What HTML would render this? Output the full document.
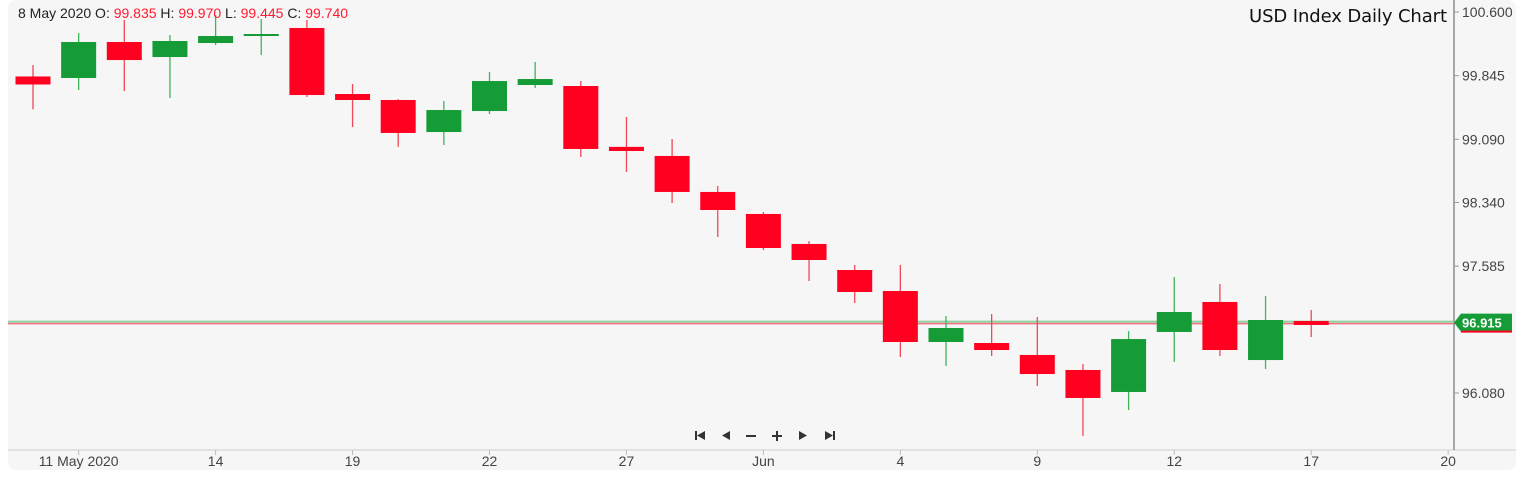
<!DOCTYPE html>
<html><head><meta charset="utf-8">
<style>
html,body{margin:0;padding:0;background:#fff;}
body{width:1516px;height:484px;overflow:hidden;font-family:"Liberation Sans",sans-serif;}
#chart{position:absolute;left:0;top:0;}
</style></head>
<body>
<svg id="chart" width="1516" height="484" xmlns="http://www.w3.org/2000/svg">
<rect x="8" y="0" width="1508" height="470" rx="8" fill="#f6f6f6"/>
<line x1="8" y1="450" x2="1516" y2="450" stroke="#cfcfcf"/>
<line x1="1454" y1="0" x2="1454" y2="450" stroke="#555"/>
<g id="marks"></g>
<g id="yticks"></g>
<g id="xticks"></g>
<text x="18" y="18" font-size="14" fill="#222">8 May 2020 O: <tspan fill="#ff1a2e">99.835</tspan> H: <tspan fill="#ff1a2e">99.970</tspan> L: <tspan fill="#ff1a2e">99.445</tspan> C: <tspan fill="#ff1a2e">99.740</tspan></text>
<text x="1447" y="22" font-size="18" text-anchor="end" fill="#111" font-family="DejaVu Sans, sans-serif" textLength="198">USD Index Daily Chart</text>
<g fill="#333">
<g><rect x="695" y="431" width="2" height="9"/><path d="M697 435.5 L705 431 V440 Z"/></g>
<path d="M722 435.5 L730 431 V440 Z"/>
<rect x="746" y="435" width="10" height="2"/>
<path d="M772 435 H782 V437 H772 Z M776 431 H778 V441 H776 Z"/>
<path d="M799 431 L807 435.5 L799 440 Z"/>
<g><path d="M825 431 L833 435.5 L825 440 Z"/><rect x="833" y="431" width="2" height="9"/></g>
</g>
</svg>
<script>
const opens  =[99.835,99.817,100.244,100.066,100.232,100.315,100.41,99.627,99.556,99.176,99.425,99.734,99.722,99.0,98.892,98.465,98.204,97.848,97.539,97.29,96.685,96.673,96.531,96.353,96.092,96.804,97.16,96.471,96.934];
const highs  =[99.970,100.35,100.505,100.327,100.564,100.517,100.505,99.746,99.568,99.544,99.888,100.007,99.781,99.354,99.093,98.536,98.227,97.883,97.599,97.599,96.993,97.017,96.981,96.424,96.815,97.456,97.373,97.231,97.065];
const lows   =[99.445,99.675,99.663,99.58,100.208,100.09,99.592,99.236,99.0,99.022,99.39,99.698,98.88,98.702,98.334,97.931,97.776,97.409,97.148,96.507,96.4,96.519,96.163,95.57,95.878,96.448,96.519,96.365,96.744];
const closes =[99.740,100.244,100.03,100.256,100.315,100.339,99.615,99.556,99.165,99.437,99.781,99.805,98.975,98.951,98.465,98.251,97.8,97.658,97.278,96.685,96.851,96.59,96.305,96.021,96.72,97.041,96.59,96.946,96.887];
const yTickValues=[100.600,99.845,99.090,98.340,97.585,96.080];
const xTickIndex=[1,4,7,10,13,16,19,22,25,28,31];
const xTickLabels=["11 May 2020","14","19","22","27","Jun","4","9","12","17","20"];
const lastPrice=96.915;

const NS="http://www.w3.org/2000/svg";
function yScale(p){return 12+(100.6-p)*84.29;}
function xScale(i){return 33+i*45.65;}
function mk(tag,attrs,parent){const e=document.createElementNS(NS,tag);for(const k in attrs)e.setAttribute(k,attrs[k]);parent.appendChild(e);return e;}
const marks=document.getElementById('marks');
const yt=document.getElementById('yticks');
const xt=document.getElementById('xticks');

const pl=mk('line',{x1:8,x2:1454,y1:yScale(lastPrice)-1,y2:yScale(lastPrice)-1,stroke:'#8fcf9f','stroke-width':2},marks);


const pl2=mk('line',{x1:8,x2:1454,y1:yScale(lastPrice)+1,y2:yScale(lastPrice)+1,stroke:'#f07080','stroke-width':1.5},marks);



for(let i=0;i<opens.length;i++){
  const up=closes[i]>=opens[i];
  const col=up?'#169c36':'#ff0020';
  const wcol=up?'#3fb55a':'#f04858';
  const x=xScale(i);
  const g=mk('g',{},marks);
  
  
  const w=mk('line',{x1:x,x2:x,y1:yScale(highs[i]),y2:yScale(lows[i]),stroke:wcol,'stroke-width':1.3},g);
  
  
  const top=yScale(Math.max(opens[i],closes[i])),bot=yScale(Math.min(opens[i],closes[i]));
  const b=mk('rect',{x:x-17.5,y:top,width:35,height:Math.max(2,bot-top),fill:col},g);
  
  
}

yTickValues.forEach(v=>{
  const y=yScale(v);
  const t=mk('line',{x1:1454,x2:1459,y1:y,y2:y,stroke:'#999'},yt);
  
  
  const tx=mk('text',{x:1462,y:y+5,'font-size':14,fill:'#444'},yt);
  tx.textContent=v.toFixed(3);
  
  
});

const ly=yScale(lastPrice);
const lbg=mk('path',{d:`M1454 ${ly} L1461 ${ly-9} H1512 V${ly+9} H1461 Z`,fill:'#169c36'},yt);


const lred=mk('rect',{x:1461,y:ly+8,width:51,height:2,fill:'#ff0020'},yt);


const lt=mk('text',{x:1462,y:ly+5,'font-size':13,'font-weight':'bold',fill:'#fff'},yt);
lt.textContent=lastPrice.toFixed(3);



xTickIndex.forEach((ix,k)=>{
  const x=xScale(ix);
  const t=mk('line',{x1:x,x2:x,y1:450,y2:455,stroke:'#bbb'},xt);
  
  
  const tx=mk('text',{x:x,y:466,'font-size':14,fill:'#444','text-anchor':'middle'},xt);
  tx.textContent=xTickLabels[k];
  
  
});
</script>
</body></html>
